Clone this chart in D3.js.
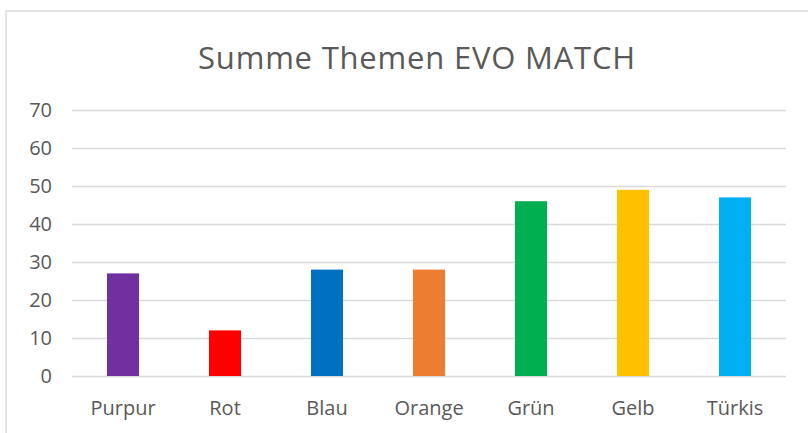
<!DOCTYPE html>
<html>
<head>
<meta charset="utf-8">
<script src="https://cdn.jsdelivr.net/npm/d3@7"></script>
<style>
  body { margin: 0; background: #fff; }
  text { font-family: "Open Sans", "Noto Sans", sans-serif; fill: #595959; }
</style>
</head>
<body>
<script>
// data
const categories = ["Purpur", "Rot", "Blau", "Orange", "Grün", "Gelb", "Türkis"];
const values = [27, 12, 28, 28, 46, 49, 47];
const barColors = ["#7030a0", "#ff0000", "#0070c0", "#ed7d31", "#00b050", "#ffc000", "#00b0f0"];
const yTicks = [0, 10, 20, 30, 40, 50, 60, 70];

const W = 808, H = 433;
const margin = {top: 110, left: 72, right: 22, bottom: 57};
const width = W - margin.left - margin.right;
const height = H - margin.top - margin.bottom;

const svg = d3.select("body").append("svg")
  .attr("width", W)
  .attr("height", H);

// chart frame
svg.append("rect")
  .attr("x", 6).attr("y", 11)
  .attr("width", W + 10).attr("height", H + 10)
  .attr("fill", "none")
  .attr("stroke", "#d9d9d9")
  .attr("stroke-width", 1.5);

svg.append("text")
  .attr("x", 417).attr("y", 69)
  .attr("text-anchor", "middle")
  .attr("font-size", 31)
  .attr("letter-spacing", 0.8)
  .text("Summe Themen EVO MATCH");

const g = svg.append("g")
  .attr("transform", `translate(${margin.left},${margin.top})`);

const x = d3.scaleBand().domain(categories).range([0, width]).paddingInner(0.686).paddingOuter(0.343);
const y = d3.scaleLinear().domain([0, 70]).range([height, 0]);

// gridlines + y labels
const yAxis = g.append("g")
  .call(d3.axisLeft(y).tickValues(yTicks).tickSize(-width).tickPadding(20));
yAxis.select(".domain").remove();
yAxis.selectAll(".tick line").attr("stroke", "#d9d9d9").attr("stroke-width", 1.5);
yAxis.selectAll(".tick text").attr("font-size", 20).attr("fill", "#595959");

// bars
g.selectAll("rect.bar")
  .data(values)
  .enter()
  .append("rect")
    .attr("class", "bar")
    .attr("x", (d, i) => x(categories[i]))
    .attr("y", d => y(d))
    .attr("width", x.bandwidth())
    .attr("height", d => y(0) - y(d))
    .attr("fill", (d, i) => barColors[i]);

// category labels
const xAxis = g.append("g")
  .attr("transform", `translate(0,${height})`)
  .call(d3.axisBottom(x).tickSize(0).tickPadding(25));
xAxis.select(".domain").remove();
xAxis.selectAll(".tick text").attr("font-size", 20).attr("fill", "#595959");
</script>
</body>
</html>
